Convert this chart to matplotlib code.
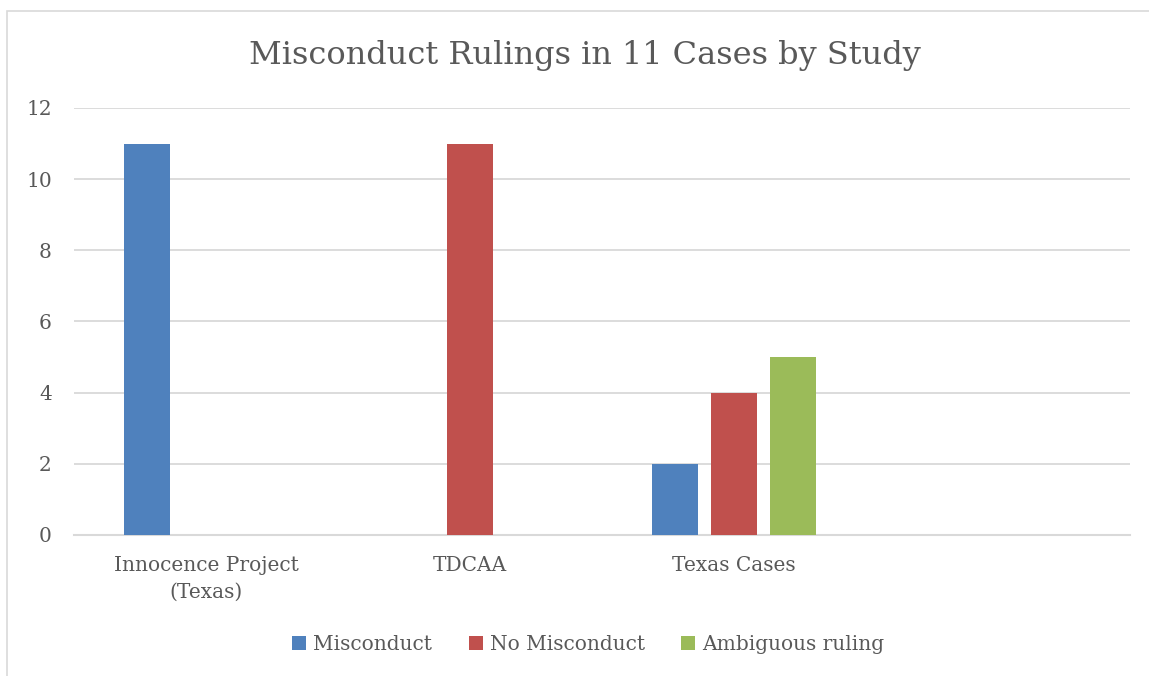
import matplotlib
matplotlib.use("Agg")
import matplotlib.pyplot as plt
import numpy as np
from matplotlib.patches import Rectangle
from matplotlib import font_manager

# data
categories = ["Innocence Project\n(Texas)", "TDCAA", "Texas Cases", ""]
misconduct = [11, 0, 2, 0]
no_misconduct = [0, 11, 4, 0]
ambiguous = [0, 0, 5, 0]
series_names = ["Misconduct", "No Misconduct", "Ambiguous ruling"]
colors = ["#4F81BD", "#C0504D", "#9BBB59"]
yticks = [0, 2, 4, 6, 8, 10, 12]

# prefer a condensed serif if there is one, closer to the original look
names = {f.name for f in font_manager.fontManager.ttflist}
serif = "DejaVu Serif Condensed" if "DejaVu Serif Condensed" in names else "DejaVu Serif"
plt.rcParams["font.family"] = [serif]
text_color = "#595959"
grid_color = "#D9D9D9"

fig = plt.figure(figsize=(11.49, 6.76), dpi=100)
ax = fig.add_axes([0.0644, 0.2086, 0.919, 0.6317])

x = np.arange(len(categories))
width = 0.174
offset = 0.223
for i, (vals, name, c) in enumerate(zip([misconduct, no_misconduct, ambiguous], series_names, colors)):
    ax.bar(x + (i - 1) * offset, vals, width, color=c, label=name, zorder=3)

ax.set_xlim(-0.5, len(categories) - 0.5)
ax.set_ylim(0, 12)
ax.set_yticks(yticks)
ax.set_xticks(x)
ax.set_xticklabels(categories, linespacing=1.5)
ax.yaxis.grid(True, color=grid_color, linewidth=1.3, zorder=0)
ax.tick_params(axis="both", length=0, labelsize=14.5, colors=text_color)
ax.tick_params(axis="y", pad=16)
ax.tick_params(axis="x", pad=15)
for side in ["top", "right", "left"]:
    ax.spines[side].set_visible(False)
ax.spines["bottom"].set_color(grid_color)
ax.spines["bottom"].set_linewidth(1.5)

fig.text(0.509, 0.918, "Misconduct Rulings in 11 Cases by Study",
         ha="center", va="center", fontsize=23, color=text_color)

leg = fig.legend(loc="center", bbox_to_anchor=(0.512, 0.046), ncol=3, frameon=False,
                 fontsize=14.5, handlelength=0.7, handleheight=0.7, handletextpad=0.35,
                 columnspacing=1.8)
for t in leg.get_texts():
    t.set_color(text_color)

# outer chart border
fig.patches.append(Rectangle((7 / 1149, -0.01), 1.2, 1 - 11 / 676 + 0.01,
                             transform=fig.transFigure, fill=False,
                             edgecolor=grid_color, linewidth=1.2))

fig.savefig("out.png", dpi=100)
